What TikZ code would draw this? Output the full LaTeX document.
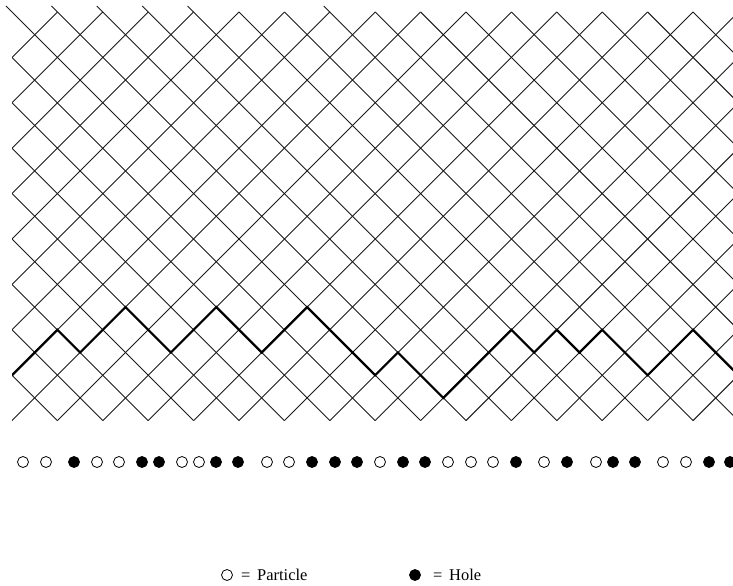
\documentclass[tikz,border=0pt]{standalone}
\usepackage{fontspec}
\setmainfont{Liberation Serif}
\usetikzlibrary{positioning}
\tikzset{
  gridline/.style={line width=0.9bp, black!90},
  heightline/.style={line width=2.2bp, line join=miter},
  particle/.style={circle, draw, line width=0.8bp, inner sep=0pt, minimum size=11bp},
  hole/.style={circle, draw, fill, line width=0.8bp, inner sep=0pt, minimum size=11bp},
  keytext/.style={inner sep=0pt, anchor=west, font=\fontsize{16.5}{18}\selectfont}
}
\newcommand{\cell}{22.7bp}

\begin{document}
\begin{tikzpicture}[x=1bp, y=-1bp]
  \useasboundingbox (0,0) rectangle (733,586);

  % lattice and height function
  \begin{scope}[shift={(12,420.6)}, x=\cell, y=\cell]
    \clip (0,0) rectangle (31.76,18);
    \foreach \k in {-9,...,15}
      \draw[gridline] (2*\k,18) -- ++(18,-18);
    \foreach \k in {0,...,24}
      \draw[gridline] (2*\k,18) -- ++(-18,-18);
    \draw[heightline] (0,2) -- (2,4) -- (3,3) -- (5,5) -- (7,3) -- (9,5)
      -- (11,3) -- (13,5) -- (16,2) -- (17,3) -- (19,1) -- (22,4) -- (23,3)
      -- (24,4) -- (25,3) -- (26,4) -- (28,2) -- (30,4) -- (32,2);
  \end{scope}
  % little overhangs at the top
  \foreach \k in {0,1,2,3,4,7}
    \draw[gridline] ({12+45.4*\k},12) -- ++(-6,-6);

  % particles and holes
  \foreach \x/\t [count=\i] in {23/particle, 46/particle, 74/hole, 97/particle,
      119/particle, 142/hole, 159/hole, 182/particle, 199/particle, 216/hole,
      238/hole, 267/particle, 289/particle, 312/hole, 335/hole, 357/hole,
      380/particle, 403/hole, 425/hole, 448/particle, 471/particle,
      493/particle, 516/hole, 544/particle, 567/hole, 596/particle, 613/hole,
      635/hole, 663/particle, 686/particle, 709/hole, 730/hole}
    \node[\t] (s\i) at (\x,462) {};

  % key
  \node[particle] (keyp) at (227,575) {};
  \node[keytext, right=8bp of keyp] (keyptext) {=\ \,Particle};
  \node[hole] (keyh) at (415,575) {};
  \node[keytext, right=12bp of keyh] (keyhtext) {=\ \,Hole};
\end{tikzpicture}
\end{document}
